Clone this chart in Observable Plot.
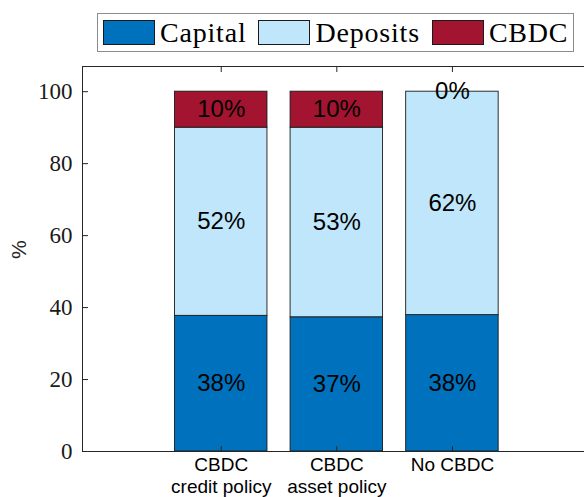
<!DOCTYPE html>
<html>
<head>
<meta charset="utf-8">
<script src="https://cdn.jsdelivr.net/npm/d3@7"></script>
<script src="https://cdn.jsdelivr.net/npm/@observablehq/plot@0.6"></script>
<style>
  html, body { margin: 0; padding: 0; background: #fff; }
  #legend { position: relative; height: 56px; width: 584px; }
  #legend .box {
    position: absolute; left: 97px; top: 13px; height: 39px; box-sizing: border-box;
    border: 1px solid #8c8c8c; display: flex; align-items: center; padding: 0 5px 0 5px; background: #fff;
  }
  #legend .item { display: flex; align-items: center; }
  #legend .item + .item { margin-left: 12px; }
  #legend .sw { width: 52px; height: 25px; box-sizing: border-box; border: 1px solid #1a1a1a; }
  #legend .lab { margin-left: 5px; font-family: "Liberation Serif", serif; font-size: 28px; letter-spacing: 0.8px; line-height: 1; color: #000; }
  svg { display: block; }
</style>
</head>
<body>
<div id="legend"><div class="box"></div></div>
<div id="chart"></div>
<script>
const categories = ["CBDC\ncredit policy", "CBDC\nasset policy", "No CBDC"];
const series = ["Capital", "Deposits", "CBDC"];
const capital = [37.7, 37.3, 37.9];
const deposits = [52.3, 52.7, 62.1];
const cbdc = [10.0, 10.0, 0.0];
const yTicks = [0, 20, 40, 60, 80, 100];
const colors = ["#0072BD", "#BFE6FB", "#A2142F"];

const positions = categories.map((c, i) => i + 1);
const values = [capital, deposits, cbdc];
const data = [];
series.forEach((s, si) => {
  categories.forEach((c, ci) => {
    data.push({series: s, category: c, pos: positions[ci], value: values[si][ci]});
  });
});

// legend
const box = document.querySelector("#legend .box");
series.forEach((s, i) => {
  const item = document.createElement("div");
  item.className = "item";
  const sw = document.createElement("div");
  sw.className = "sw";
  sw.style.background = colors[i];
  const lab = document.createElement("div");
  lab.className = "lab";
  lab.textContent = s;
  item.appendChild(sw);
  item.appendChild(lab);
  box.appendChild(item);
});

const W = 584, H = 441;
const mL = 82, mT = 10, mB = 46;
const xDomain = [-0.2, 4.2];
const yDomain = [0, 107];
const xRange = [mL, mL + (xDomain[1] - xDomain[0]) * 115.6];
const plotW = xRange[1] - xRange[0];
const plotH = H - mT - mB;
const axisColor = "#262626";

const chart = Plot.plot({
  width: W,
  height: H,
  marginLeft: mL,
  marginTop: mT,
  marginBottom: mB,
  marginRight: W - xRange[1],
  style: {fontFamily: "Liberation Sans, Arial, sans-serif", background: "#fff"},
  x: {domain: xDomain, axis: null},
  y: {domain: yDomain, axis: null},
  color: {domain: series, range: colors},
  marks: [
    Plot.rectY(data, {x1: d => d.pos - 0.4, x2: d => d.pos + 0.4, y: "value", fill: "series", stroke: "#1a1a1a", strokeWidth: 0.9}),
    Plot.text(data, Plot.stackY({x: "pos", y: "value", z: "series", text: d => Math.round(d.value) + "%", fontSize: 24, fill: "#000"})),
    // axis box lines
    Plot.ruleX([xDomain[0]], {stroke: axisColor, strokeWidth: 1}),
    Plot.ruleY([yDomain[0]], {stroke: axisColor, strokeWidth: 1}),
    Plot.ruleY([yDomain[1]], {stroke: axisColor, strokeWidth: 1}),
    // inward ticks
    Plot.ruleY(yTicks, {stroke: axisColor, strokeWidth: 1, insetRight: plotW - 6}),
    Plot.ruleX(positions, {stroke: axisColor, strokeWidth: 1, insetTop: plotH - 5}),
    Plot.ruleX(positions, {stroke: axisColor, strokeWidth: 1, insetBottom: plotH - 6}),
    // tick labels
    Plot.axisY({ticks: yTicks, tickSize: 0, tickPadding: 10, label: null, fontFamily: "Liberation Serif, serif", fontSize: 23, fill: "#1a1a1a"}),
    Plot.axisX({ticks: positions, tickSize: 0, tickPadding: 3, label: null, tickFormat: p => categories[p - 1], fontSize: 19, lineHeight: 1.2, fill: "#000"}),
    Plot.text(["%"], {frameAnchor: "left", dx: -63, rotate: -90, fontSize: 21, fill: "#262626"})
  ]
});
document.getElementById("chart").appendChild(chart);
</script>
</body>
</html>
